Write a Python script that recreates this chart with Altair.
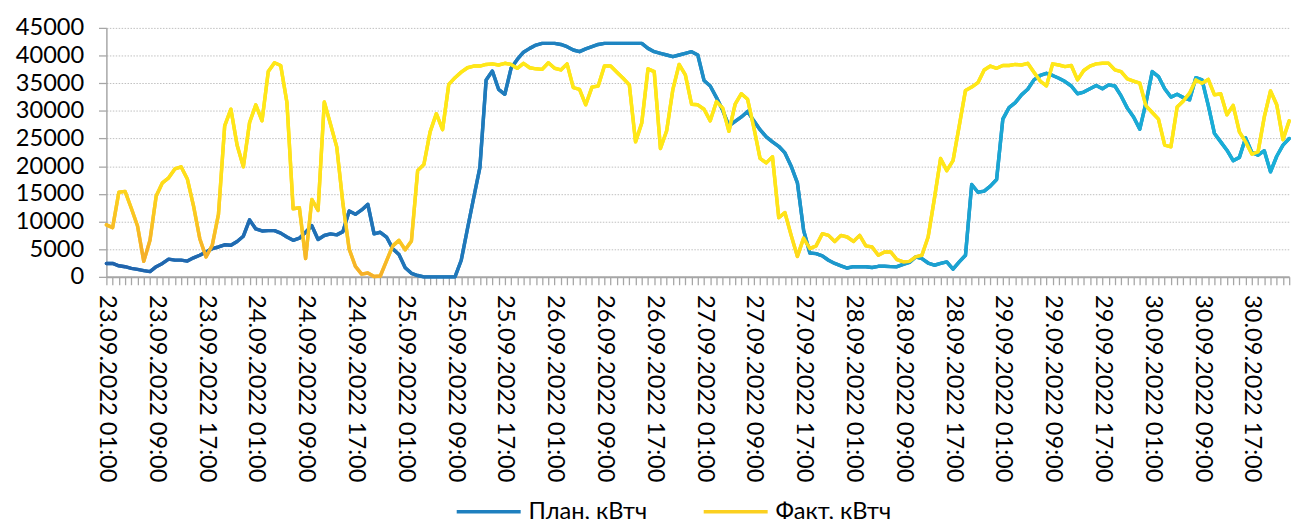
import altair as alt
import pandas as pd

# ---- data (hourly, 23.09.2022 01:00 ... 30.09.2022 23:00) ----
plan_kwh = [
    # 23.09 01:00-23:00
    2430, 2430, 2000, 1840, 1540, 1360, 1130, 950, 1840, 2430, 3200, 3020,
    3020, 2850, 3440, 3900, 4500, 5100, 5400, 5800, 5700, 6400, 7350,
    # 24.09
    10300, 8660, 8300, 8360, 8360, 7900, 7200, 6600, 7000, 8060, 9250, 6760,
    7470, 7770, 7590, 8180, 11900, 11300, 12100, 13100, 7770, 8060, 7200, 5100,
    # 25.09
    4030, 1660, 650, 240, 0, 0, 0, 0, 0, 0, 3000, 8700,
    14300, 19800, 35600, 37200, 33900, 33000, 37700, 39300, 40600, 41300, 41900, 42200,
    # 26.09
    42200, 42200, 42000, 41600, 41000, 40700, 41200, 41600, 42000, 42200, 42200, 42200,
    42200, 42200, 42200, 42200, 41300, 40700, 40400, 40100, 39800, 40100, 40400, 40700,
    # 27.09
    40100, 35500, 34500, 32400, 30100, 27300, 28100, 28900, 29900, 28200, 26600, 25300,
    24400, 23600, 22400, 20000, 17000, 8400, 4300, 4200, 3800, 3000, 2430, 2000,
    # 28.09
    1600, 1840, 1840, 1840, 1700, 1900, 1900, 1850, 1840, 2250, 2600, 3600,
    3300, 2500, 2100, 2430, 2700, 1400, 2700, 3900, 16700, 15300, 15500, 16400,
    # 29.09
    17600, 28500, 30600, 31500, 32900, 33900, 35600, 36400, 36800, 36400, 35900, 35300,
    34500, 33100, 33400, 34000, 34600, 34000, 34700, 34500, 32700, 30500, 28900, 26700,
    # 30.09
    31500, 37100, 36200, 34000, 32500, 33000, 32400, 32000, 36000, 35600, 31000, 25900,
    24400, 22900, 21000, 21600, 25100, 22500, 22000, 22800, 19000, 21800, 23800, 25000,
]

fact_kwh = [
    # 23.09 01:00-23:00
    9400, 8900, 15300, 15450, 12400, 9200, 2800, 6600, 14600, 17000, 17900, 19500,
    19900, 17700, 12800, 6900, 3600, 5700, 11300, 27300, 30300, 23800, 19900,
    # 24.09
    27900, 31100, 28200, 37100, 38700, 38200, 31500, 12300, 12500, 3300, 14000, 12000,
    31600, 27600, 23500, 13200, 5000, 1900, 500, 700, 50, 150, 2900, 5600,
    # 25.09
    6600, 4900, 6500, 19200, 20300, 26200, 29500, 26600, 34800, 36000, 37000, 37800,
    38100, 38100, 38400, 38500, 38300, 38600, 38400, 37700, 38600, 37800, 37600, 37500,
    # 26.09
    38700, 37700, 37400, 38500, 34200, 33900, 31100, 34300, 34500, 38100, 38100, 37000,
    35900, 34700, 24400, 27800, 37600, 37100, 23200, 26400, 33900, 38400, 36500, 31200,
    # 27.09
    31100, 30300, 28200, 31700, 30500, 26300, 31200, 33100, 32100, 27000, 21400, 20600,
    21700, 10700, 11600, 7500, 3700, 7000, 5100, 5600, 7800, 7500, 6400, 7500,
    # 28.09
    7200, 6400, 7500, 5600, 5400, 3900, 4500, 4500, 3100, 2700, 2800, 3600,
    3900, 7200, 14100, 21400, 19200, 21000, 27300, 33700, 34300, 35100, 37400, 38100,
    # 29.09
    37700, 38200, 38200, 38400, 38300, 38600, 37000, 35400, 34500, 38500, 38300, 38000,
    38200, 35600, 37300, 38100, 38500, 38600, 38600, 37400, 37100, 35800, 35400, 35000,
    # 30.09
    30900, 29700, 28500, 23800, 23500, 30700, 31800, 33200, 35600, 35000, 35700, 32900,
    33100, 29300, 31000, 26200, 24400, 22200, 22600, 28900, 33600, 31100, 24800, 28200,
]

# category labels: one per hour
time_labels = []
for k in range(len(plan_kwh)):
    h = 1 + k
    day = 23 + h // 24
    hour = h % 24
    time_labels.append(f"{day:02d}.09.2022 {hour:02d}:00")

series_names = ["План, кВтч", "Факт, кВтч"]
y_ticks = list(range(0, 45001, 5000))

df = pd.DataFrame({
    "t": time_labels * 2,
    "series": [series_names[0]] * len(plan_kwh) + [series_names[1]] * len(fact_kwh),
    "value": plan_kwh + fact_kwh,
})

FONT = "Lato"
AX = "#A6A6A6"

x_enc = alt.X(
    "t:O",
    sort=time_labels,
    scale=alt.Scale(type="point", padding=0),
    axis=alt.Axis(
        title=None,
        labelAngle=90,
        labelAlign="left",
        labelBaseline="middle",
        labelExpr="indexof(['01:00','09:00','17:00'], substring(datum.value, 11, 16)) >= 0 ? datum.value : ''",
        labelOverlap=False,
        labelLimit=400,
        labelFont=FONT,
        labelFontSize=24,
        labelColor="#000000",
        labelPadding=10,
        tickSize=8,
        tickColor=AX,
        tickWidth=1.3,
        domainColor=AX,
        domainWidth=2,
        grid=False,
    ),
)
y_enc = alt.Y(
    "value:Q",
    scale=alt.Scale(domain=[0, 45000], nice=False),
    axis=alt.Axis(
        title=None,
        values=y_ticks,
        format="d",
        labelFont=FONT,
        labelFontSize=24,
        labelColor="#000000",
        labelPadding=15,
        tickSize=8,
        tickColor=AX,
        tickWidth=1.3,
        domainColor=AX,
        domainWidth=1.5,
        grid=True,
        gridColor="#BFBFBF",
        gridDash=[1.5, 1.5],
        gridWidth=1,
    ),
)

plan_grad = alt.Gradient(
    gradient="linear",
    stops=[
        alt.GradientStop(offset=0, color="#2163AC"),
        alt.GradientStop(offset=0.3, color="#2078BA"),
        alt.GradientStop(offset=0.5, color="#1E8DC6"),
        alt.GradientStop(offset=0.75, color="#1AA6D3"),
        alt.GradientStop(offset=1, color="#18B0D8"),
    ],
    x1=0, y1=0, x2=1, y2=0,
)
fact_grad = alt.Gradient(
    gradient="linear",
    stops=[
        alt.GradientStop(offset=0, color="#F5B02A"),
        alt.GradientStop(offset=0.5, color="#FFDF1A"),
        alt.GradientStop(offset=1, color="#FFE817"),
    ],
    x1=0, y1=0.85, x2=0.3, y2=0.35,
)

base = alt.Chart(df)

legend_layer = base.mark_line(strokeWidth=3.5, strokeJoin="round", strokeCap="round").encode(
    x=x_enc,
    y=y_enc,
    color=alt.Color(
        "series:N",
        scale=alt.Scale(domain=series_names, range=["#1F80BF", "#FBD020"]),
        legend=alt.Legend(
            orient="none",
            legendX=354,
            legendY=457,
            direction="horizontal",
            title=None,
            symbolType="stroke",
            symbolSize=4225,
            symbolStrokeWidth=3.5,
            labelFont=FONT,
            labelFontSize=24,
            labelColor="#000000",
            labelOffset=6,
            labelLimit=400,
            columnPadding=50,
            padding=0,
        ),
    ),
)

plan_layer = base.transform_filter(alt.datum.series == series_names[0]).mark_line(
    stroke=plan_grad, strokeWidth=3.5, strokeJoin="round", strokeCap="round"
).encode(x=x_enc, y=y_enc)

fact_layer = base.transform_filter(alt.datum.series == series_names[1]).mark_line(
    stroke=fact_grad, strokeWidth=3.5, strokeJoin="round", strokeCap="round"
).encode(x=x_enc, y=y_enc)

chart = alt.layer(legend_layer, plan_layer, fact_layer).properties(
    width=1202,
    height=253,
    padding={"left": 7, "top": 4, "right": 0, "bottom": 0},
    background="white",
).configure_view(strokeWidth=0)

chart.save("out.html", embed_options={"renderer": "svg", "actions": False})
